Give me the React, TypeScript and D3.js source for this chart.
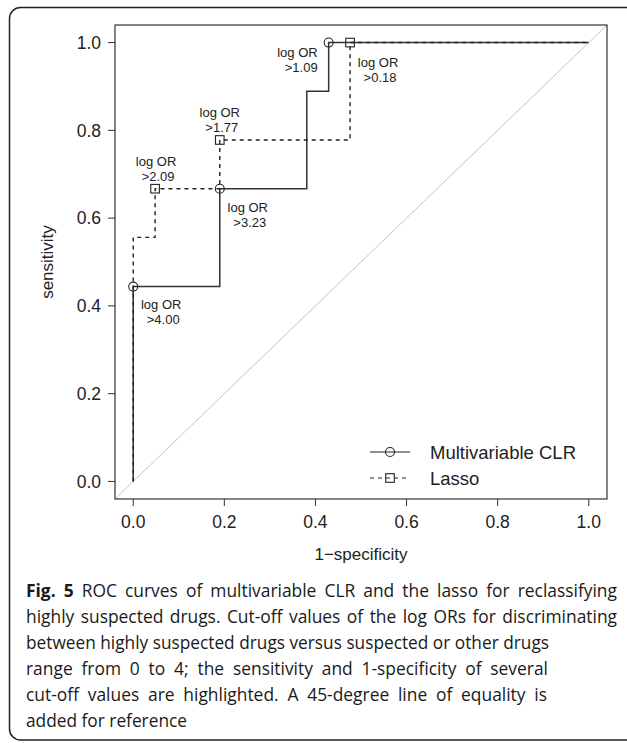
import * as d3 from 'd3';
import React, { useEffect, useRef } from 'react';

// ROC vertices, multivariable CLR (solid, circles)
const clrFpr = [0, 0, 0.19, 0.19, 0.381, 0.381, 0.429, 0.429, 1];
const clrTpr = [0, 0.444, 0.444, 0.667, 0.667, 0.889, 0.889, 1, 1];

// ROC vertices, lasso (dashed, squares)
const lassoFpr = [0, 0, 0.048, 0.048, 0.19, 0.19, 0.476, 0.476, 1];
const lassoTpr = [0, 0.556, 0.556, 0.667, 0.667, 0.778, 0.778, 1, 1];

// highlighted cut-offs
const clrThrFpr = [0, 0.19, 0.429];
const clrThrTpr = [0.444, 0.667, 1];
const clrThrLabels = ['>4.00', '>3.23', '>1.09'];

const lassoThrFpr = [0.048, 0.19, 0.476];
const lassoThrTpr = [0.667, 0.778, 1];
const lassoThrLabels = ['>2.09', '>1.77', '>0.18'];

const ticks = [0, 0.2, 0.4, 0.6, 0.8, 1];
const legendLabels = ['Multivariable CLR', 'Lasso'];

const captionBold = 'Fig. 5';
const captionLines = [
  ' ROC curves of multivariable CLR and the lasso for reclassifying',
  'highly suspected drugs. Cut-off values of the log ORs for discriminating',
  'between highly suspected drugs versus suspected or other drugs',
  'range from 0 to 4; the sensitivity and 1-specificity of several',
  'cut-off values are highlighted. A 45-degree line of equality is',
  'added for reference',
];

const App: React.FC = () => {
  const svgRef = useRef<SVGSVGElement>(null);

  useEffect(() => {
    const svg = d3.select(svgRef.current);
    svg.selectAll('*').remove();

    const W = 627;
    const H = 743;
    svg.attr('width', W).attr('height', H);
    const font = '"Liberation Sans", Arial, Helvetica, sans-serif';
    const ink = '#222';

    // outer figure frame
    svg
      .append('rect')
      .attr('x', 9.5)
      .attr('y', 7.5)
      .attr('width', 660)
      .attr('height', 732.5)
      .attr('rx', 11)
      .attr('fill', 'none')
      .attr('stroke', ink)
      .attr('stroke-width', 1.5);

    // plot region (R style, 4% padding)
    const box = { left: 115, right: 607, top: 25, bottom: 499 };
    const x = d3.scaleLinear().domain([-0.04, 1.04]).range([box.left, box.right]);
    const y = d3.scaleLinear().domain([-0.04, 1.04]).range([box.bottom, box.top]);

    svg
      .append('defs')
      .append('clipPath')
      .attr('id', 'plotclip')
      .append('rect')
      .attr('x', box.left)
      .attr('y', box.top)
      .attr('width', box.right - box.left)
      .attr('height', box.bottom - box.top);

    // line of equality
    svg
      .append('line')
      .attr('clip-path', 'url(#plotclip)')
      .attr('x1', x(-0.04))
      .attr('y1', y(-0.04))
      .attr('x2', x(1.04))
      .attr('y2', y(1.04))
      .attr('stroke', '#c4c4c4')
      .attr('stroke-width', 1);

    svg
      .append('rect')
      .attr('x', box.left)
      .attr('y', box.top)
      .attr('width', box.right - box.left)
      .attr('height', box.bottom - box.top)
      .attr('fill', 'none')
      .attr('stroke', '#333')
      .attr('stroke-width', 1.2);

    // x axis
    const xAxis = svg.append('g');
    xAxis
      .selectAll('line')
      .data(ticks)
      .enter()
      .append('line')
      .attr('x1', (d) => x(d))
      .attr('x2', (d) => x(d))
      .attr('y1', box.bottom)
      .attr('y2', box.bottom + 7)
      .attr('stroke', '#333');
    xAxis
      .selectAll('text')
      .data(ticks)
      .enter()
      .append('text')
      .attr('x', (d) => x(d))
      .attr('y', 528)
      .attr('text-anchor', 'middle')
      .attr('font-family', font)
      .attr('font-size', 17.5)
      .attr('fill', ink)
      .text((d) => d3.format('.1f')(d));

    // y axis
    const yAxis = svg.append('g');
    yAxis
      .selectAll('line')
      .data(ticks)
      .enter()
      .append('line')
      .attr('x1', box.left - 7)
      .attr('x2', box.left)
      .attr('y1', (d) => y(d))
      .attr('y2', (d) => y(d))
      .attr('stroke', '#333');
    yAxis
      .selectAll('text')
      .data(ticks)
      .enter()
      .append('text')
      .attr('x', 101)
      .attr('y', (d) => y(d))
      .attr('dy', '0.36em')
      .attr('text-anchor', 'end')
      .attr('font-family', font)
      .attr('font-size', 17.5)
      .attr('fill', ink)
      .text((d) => d3.format('.1f')(d));

    svg
      .append('text')
      .attr('x', (x(0) + x(1)) / 2)
      .attr('y', 560)
      .attr('text-anchor', 'middle')
      .attr('font-family', font)
      .attr('font-size', 17)
      .attr('fill', ink)
      .text('1\u2212specificity');

    svg
      .append('text')
      .attr('transform', `translate(53,${(y(0) + y(1)) / 2}) rotate(-90)`)
      .attr('text-anchor', 'middle')
      .attr('font-family', font)
      .attr('font-size', 17)
      .attr('fill', ink)
      .text('sensitivity');

    // curves
    const clrPts = clrFpr.map((f, i) => [f, clrTpr[i]] as [number, number]);
    const lassoPts = lassoFpr.map((f, i) => [f, lassoTpr[i]] as [number, number]);
    const path = d3
      .line<[number, number]>()
      .x((d) => x(d[0]))
      .y((d) => y(d[1]));

    svg
      .append('path')
      .attr('d', path(clrPts))
      .attr('fill', 'none')
      .attr('stroke', '#333')
      .attr('stroke-width', 1.5);

    svg
      .append('path')
      .attr('d', path(lassoPts))
      .attr('fill', 'none')
      .attr('stroke', '#222')
      .attr('stroke-width', 1.4)
      .attr('stroke-dasharray', '4,4');

    const drawCircle = (g: any, cx: number, cy: number) =>
      g
        .append('circle')
        .attr('cx', cx)
        .attr('cy', cy)
        .attr('r', 4.5)
        .attr('fill', 'none')
        .attr('stroke', '#222')
        .attr('stroke-width', 1.1);
    const drawSquare = (g: any, cx: number, cy: number) =>
      g
        .append('rect')
        .attr('x', cx - 4.3)
        .attr('y', cy - 4.3)
        .attr('width', 8.6)
        .attr('height', 8.6)
        .attr('fill', 'none')
        .attr('stroke', '#222')
        .attr('stroke-width', 1.1);

    // label placement (pixel offsets from the point: dx, dy of first baseline, anchor)
    const clrOffsets = [
      [28, 22, 'middle'],
      [28, 23, 'middle'],
      [-11, 14, 'end'],
    ];
    const lassoOffsets = [
      [1, -23, 'middle'],
      [0, -23, 'middle'],
      [28, 24, 'middle'],
    ];

    const drawLabel = (px: number, py: number, off: any[], lab: string) => {
      const t = svg
        .append('text')
        .attr('font-family', font)
        .attr('font-size', 13)
        .attr('fill', ink)
        .attr('text-anchor', off[2]);
      t.append('tspan').attr('x', px + off[0]).attr('y', py + off[1]).text('log OR');
      t.append('tspan')
        .attr('x', px + off[0] + (off[2] === 'middle' ? 2 : 0))
        .attr('y', py + off[1] + 15.5)
        .text(lab);
    };

    clrThrFpr.forEach((f, i) => {
      drawCircle(svg, x(f), y(clrThrTpr[i]));
      drawLabel(x(f), y(clrThrTpr[i]), clrOffsets[i], clrThrLabels[i]);
    });
    lassoThrFpr.forEach((f, i) => {
      drawSquare(svg, x(f), y(lassoThrTpr[i]));
      drawLabel(x(f), y(lassoThrTpr[i]), lassoOffsets[i], lassoThrLabels[i]);
    });

    // legend
    const lg = svg.append('g');
    const legendY = [452, 478];
    legendLabels.forEach((lab, i) => {
      lg.append('line')
        .attr('x1', 370)
        .attr('x2', 410)
        .attr('y1', legendY[i])
        .attr('y2', legendY[i])
        .attr('stroke', '#222')
        .attr('stroke-width', 1.2)
        .attr('stroke-dasharray', i === 0 ? null : '4,4');
      if (i === 0) drawCircle(lg, 390, legendY[i]);
      else drawSquare(lg, 390, legendY[i]);
      lg.append('text')
        .attr('x', 430)
        .attr('y', legendY[i])
        .attr('dy', '0.36em')
        .attr('font-family', font)
        .attr('font-size', 18.5)
        .attr('fill', ink)
        .text(lab);
    });

    // caption; each line stretched by word spacing to the width it has in the print
    const capFont = '"Open Sans", "Noto Sans", sans-serif';
    const capWidths = [591, 591, 523, 522, 521, 161];
    captionLines.forEach((ln, i) => {
      const t = svg
        .append('text')
        .attr('x', 26)
        .attr('y', 597 + i * 26)
        .attr('font-family', capFont)
        .attr('font-size', 17.4)
        .attr('fill', '#1a1a1a');
      if (i === 0) t.append('tspan').attr('font-weight', 'bold').text(captionBold);
      t.append('tspan').text(ln);
      const node = t.node() as SVGTextElement;
      const w = node.getComputedTextLength();
      const full = (i === 0 ? captionBold : '') + ln;
      const spaces = (full.match(/ /g) || []).length;
      if (w > capWidths[i]) {
        t.attr('textLength', capWidths[i]).attr('lengthAdjust', 'spacingAndGlyphs');
      } else if (spaces > 0) {
        t.attr('word-spacing', (capWidths[i] - w) / spaces);
      }
    });
  }, []);

  return <svg ref={svgRef} style={{ position: 'absolute', left: 0, top: 0 }} />;
};

export default App;
